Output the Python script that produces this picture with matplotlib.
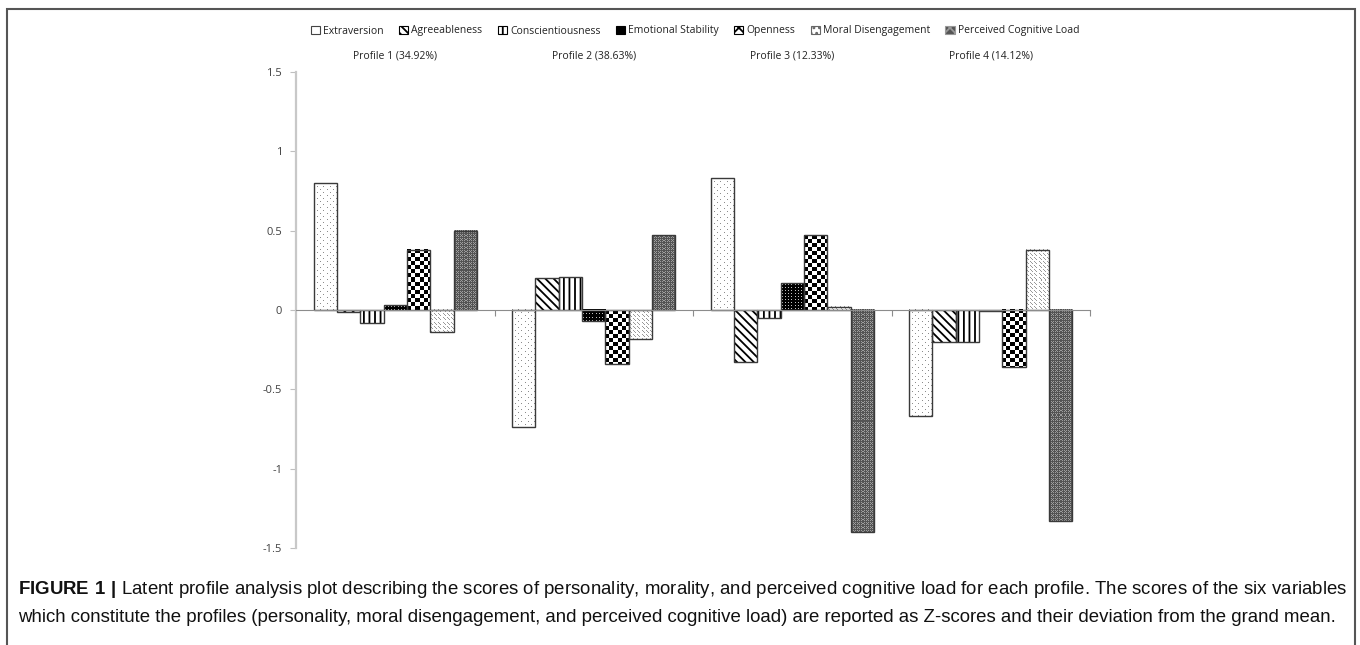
# latent profile plot - z-scores of the six variables for each profile
import matplotlib.pyplot as plt
import numpy as np
from matplotlib.patches import Patch, Rectangle

profiles = ['Profile 1 (34.92%)', 'Profile 2 (38.63%)', 'Profile 3 (12.33%)', 'Profile 4 (14.12%)']
variables = ['Extraversion', 'Agreeableness', 'Conscientiousness', 'Emotional Stability',
             'Openness', 'Moral Disengagement', 'Perceived Cognitive Load']

extraversion = [0.80, -0.74, 0.83, -0.67]
agreeableness = [-0.01, 0.20, -0.33, -0.20]
conscientiousness = [-0.08, 0.21, -0.05, -0.20]
emotional_stability = [0.03, -0.07, 0.17, -0.005]
openness = [0.38, -0.34, 0.47, -0.36]
moral_disengagement = [-0.14, -0.18, 0.02, 0.38]
cognitive_load = [0.50, 0.47, -1.40, -1.33]

series = [extraversion, agreeableness, conscientiousness, emotional_stability,
          openness, moral_disengagement, cognitive_load]
yticks = [1.5, 1, 0.5, 0, -0.5, -1, -1.5]
ylabels = ['1.5', '1', '0.5', '0', '-0.5', '-1', '-1.5']

# fill for each variable: either a hatch or a pixel texture
styles = [('tex', 'dots'),
          ('hatch', '\\\\\\\\'),
          ('hatch', '|||'),
          ('tex', 'wdots'),
          ('tex', 'checker'),
          ('tex', 'mdots'),
          ('tex', 'grey')]
# legend handles (tiny, hatches are enough)
leg_styles = [('white', None, '#444444'),
              ('white', '\\\\\\\\', 'black'),
              ('white', '|||', 'black'),
              ('black', None, 'black'),
              ('white', 'xxx', 'black'),
              ('white', '...', '#666666'),
              ('#555555', 'xxx', '#999999')]


def texture(kind, ny, nx):
    i, j = np.indices((ny, nx))
    img = np.ones((ny, nx, 3))
    if kind == 'dots':
        m = ((i % 6 == 0) & (j % 6 == 0)) | ((i % 6 == 3) & (j % 6 == 3))
        img[m] = 0.55
    elif kind == 'mdots':
        m = ((i % 4 == 0) & (j % 4 == 0)) | ((i % 4 == 2) & (j % 4 == 2)) | ((i % 4 == 1) & (j % 4 == 1))
        img[m] = 0.6
    elif kind == 'wdots':
        img[:] = 0.0
        m = ((i % 3 == 1) & (j % 3 == 1))
        img[m] = 0.75
    elif kind == 'checker':
        m = ((i // 4 + j // 4) % 2 == 0)
        img[m] = 0.0
    elif kind == 'grey':
        img[:] = 0.33
        m = ((i % 2 == 0) & (j % 2 == 0)) | ((i % 4 == 1) & (j % 4 == 3))
        img[m] = 0.62
    return img


plt.rcParams['font.family'] = ['Open Sans', 'DejaVu Sans']
plt.rcParams['hatch.linewidth'] = 1.3
plt.rcParams['mathtext.fontset'] = 'custom'
plt.rcParams['mathtext.bf'] = 'Liberation Sans:bold'
plt.rcParams['mathtext.rm'] = 'Liberation Sans'

fig = plt.figure(figsize=(13.6, 6.45), dpi=100)
ax = fig.add_axes([296/1360, 1-548/645, 794/1360, 476/645])
px_x = 794 / 4.0
px_y = 476 / 3.0

n = len(series)
bw = 0.1175
x = np.arange(len(profiles)) + 0.5
edge = '#3a3a3a'
for i, vals in enumerate(series):
    kind, pat = styles[i]
    pos = x + (i - (n-1)/2) * bw
    if kind == 'hatch':
        ax.bar(pos, vals, bw, color='white', hatch=pat, edgecolor='black', linewidth=0, zorder=2)
    bars = ax.bar(pos, vals, bw, fill=False, edgecolor=edge, linewidth=1, zorder=3)
    if kind == 'tex':
        for b in bars:
            x0, y0 = b.get_x(), b.get_y()
            w, h = b.get_width(), b.get_height()
            ny = max(1, int(round(abs(h) * px_y)))
            nx = max(1, int(round(w * px_x)))
            ax.imshow(texture(pat, ny, nx), extent=(x0, x0+w, min(y0, y0+h), max(y0, y0+h)),
                      aspect='auto', interpolation='nearest', origin='upper', zorder=2)

ax.set_xlim(0, 4)
ax.set_ylim(-1.5, 1.5)
ax.set_yticks(yticks)
ax.set_yticklabels(ylabels)
ax.set_xticks([1, 2, 3, 4])
ax.set_xticklabels([])
ax.tick_params(axis='y', length=4, color='#bfbfbf', labelsize=8, labelcolor='#404040', pad=6)
ax.tick_params(axis='x', length=4, color='#8c8c8c', direction='out')
for s in ['top', 'right']:
    ax.spines[s].set_visible(False)
ax.spines['left'].set_color('#c8c8c8')
ax.spines['left'].set_linewidth(1.6)
ax.spines['bottom'].set_position(('data', 0))
ax.spines['bottom'].set_color('#8c8c8c')
ax.spines['bottom'].set_zorder(4)

for xc, p in zip(x, profiles):
    ax.annotate(p, xy=(xc, 1-56/645), xycoords=('data', 'figure fraction'),
                ha='center', va='center', fontsize=7.5, color='#222222')

handles = []
for v, (face, hatch, hc) in zip(variables, leg_styles):
    handles.append(Patch(facecolor=face, hatch=hatch, edgecolor=hc, linewidth=0.8, label=v))
fig.legend(handles=handles, loc='center', bbox_to_anchor=(695/1360, 1-31/645), ncol=7,
           frameon=False, fontsize=7.5, handlelength=0.9, handleheight=0.9,
           handletextpad=0.3, columnspacing=1.45, labelcolor='#222222')

# outer frame and caption
fig.patches.append(Rectangle((7/1360, -0.05), 1348/1360, 1.05 - 9/645, transform=fig.transFigure,
                             fill=False, edgecolor='#555555', linewidth=1.5))
fig.text(18/1360, 1-590/645, r'$\mathbf{FIGURE\ 1\ |}$ Latent profile analysis plot describing the scores of personality, '
         'morality, and perceived cognitive load for each profile. The scores of the six variables',
         fontsize=13.4, family='Liberation Sans', va='center', color='#111111')
fig.text(18/1360, 1-617/645, 'which constitute the profiles (personality, moral disengagement, and perceived '
         'cognitive load) are reported as Z-scores and their deviation from the grand mean.',
         fontsize=13.4, family='Liberation Sans', va='center', color='#111111')

fig.savefig('out.png', dpi=100)
